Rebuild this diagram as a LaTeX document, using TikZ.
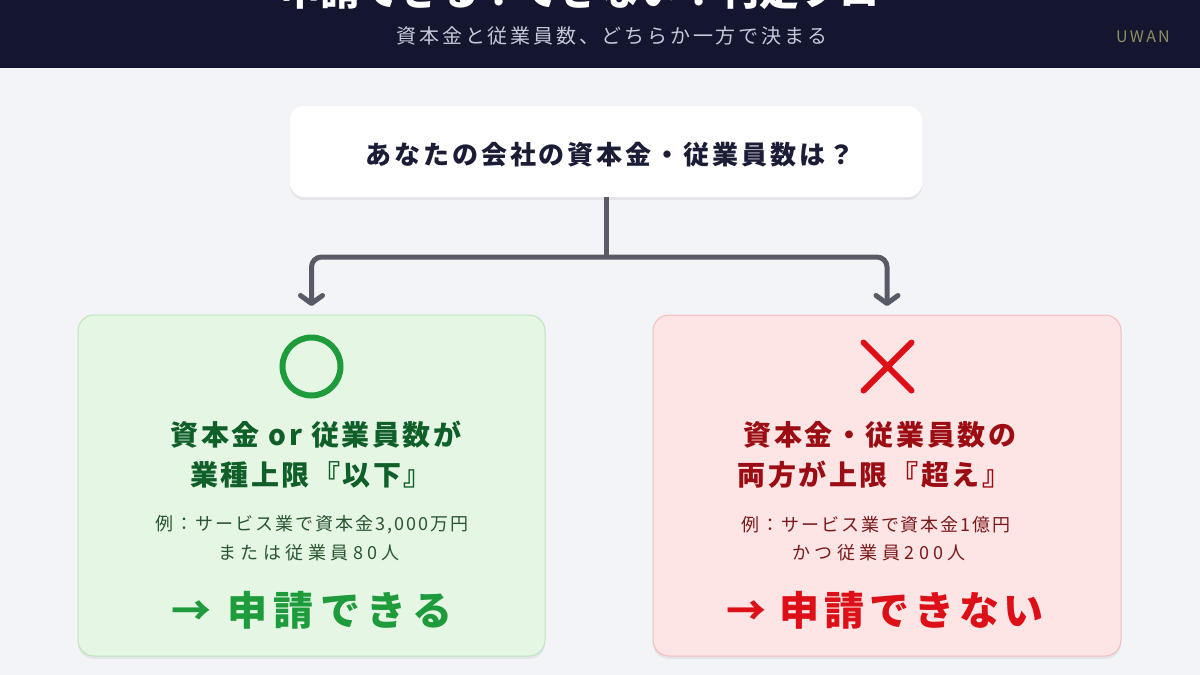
\documentclass[tikz,border=0pt]{standalone}
\usepackage{fontspec}
\newfontfamily\jp{Noto Sans CJK JP}
\usetikzlibrary{arrows.meta,shadows,shapes.misc}
\definecolor{bgc}{HTML}{F3F4F7}
\definecolor{navy}{HTML}{14162F}
\definecolor{subc}{HTML}{C5C8D8}
\definecolor{uwanc}{HTML}{8E8E62}
\definecolor{qtext}{HTML}{1B1D36}
\definecolor{connc}{HTML}{585B66}
\definecolor{okfill}{HTML}{E5F6E5}
\definecolor{okline}{HTML}{BDE5BD}
\definecolor{okc}{HTML}{1E9C3B}
\definecolor{okhead}{HTML}{0F5F28}
\definecolor{oktext}{HTML}{2A5533}
\definecolor{ngfill}{HTML}{FDE4E5}
\definecolor{ngline}{HTML}{F5BCBE}
\definecolor{ngc}{HTML}{DD1018}
\definecolor{nghead}{HTML}{9B0D12}
\definecolor{ngtext}{HTML}{7A1A1A}
\tikzset{
  softshadow/.style={drop shadow={shadow xshift=0pt,shadow yshift=-3pt,opacity=0.06,fill=black}},
  card/.style={rounded corners=16pt,line width=1pt,minimum height=341pt,inner sep=0pt,softshadow},
  conn/.style={draw=connc,line width=5pt},
  tip/.style={-{Straight Barb[length=8pt,width=22pt,round]},rounded corners=10pt,shorten >=9pt},
  headtxt/.style={font=\jp\bfseries\fontsize{28}{32}\selectfont\addfontfeatures{LetterSpace=9}},
  extxtA/.style={font=\jp\fontsize{18}{22}\selectfont\addfontfeatures{LetterSpace=11}},
  extxtB/.style={font=\jp\fontsize{18}{22}\selectfont\addfontfeatures{LetterSpace=25}},
  restxt/.style={font=\jp\bfseries\fontsize{40}{44}\selectfont\addfontfeatures{LetterSpace=12}},
  restxtwide/.style={font=\jp\bfseries\fontsize{40}{44}\selectfont\addfontfeatures{LetterSpace=16}},
}
\begin{document}
\begin{tikzpicture}[x=1pt,y=-1pt,every node/.style={inner sep=0pt,outer sep=0pt}]
\useasboundingbox (0,0) rectangle (1200,675);
\fill[bgc] (0,0) rectangle (1200,675);
% header
\fill[navy] (0,0) rectangle (1200,68);
\node[anchor=base,text=white,font=\jp\bfseries\fontsize{40}{40}\selectfont] (title) at (600,5) {申請できる？できない？判定フロー};
\node[text=subc,font=\jp\fontsize{20}{24}\selectfont\addfontfeatures{LetterSpace=14}] (sub) at (612,36) {資本金と従業員数、どちらか一方で決まる};
\node[text=uwanc,font=\jp\fontsize{16}{18}\selectfont\addfontfeatures{LetterSpace=14}] (uwan) at (1143,37) {UWAN};
% question
\node[fill=white,rounded corners=14pt,minimum width=632pt,minimum height=91pt,softshadow] (q) at (606,151.5) {};
\node[text=qtext,font=\jp\bfseries\fontsize{26}{30}\selectfont\addfontfeatures{LetterSpace=11.5}] (qt) at (610,155) {あなたの会社の資本金・従業員数は？};
% cards
\node[card,fill=okfill,draw=okline,minimum width=467pt] (ok) at (311.5,485.5) {};
\node[card,fill=ngfill,draw=ngline,minimum width=468pt] (ng) at (887,485.5) {};
% connectors
\coordinate (split) at (606,257);
\draw[conn] (q.south) -- (split);
\draw[conn,tip] (split) -| (ok.north);
\draw[conn,tip] (split) -| (ng.north);
% left content
\node[circle,draw=okc,line width=6pt,minimum size=58pt] (okmark) at (311.5,366.5) {};
\node[headtxt,text=okhead] (okh1) at (316,435) {資本金 or 従業員数が};
\node[headtxt,text=okhead] (okh2) at (311,475) {業種上限『以下』};
\node[extxtA,text=oktext] (oke1) at (312,525) {例：サービス業で資本金3,000万円};
\node[extxtB,text=oktext] (oke2) at (309,553) {または従業員80人};
\node[restxtwide,text=okc] (okr) at (312,610) {→ 申請できる};
% right content
\node[cross out,draw=ngc,line width=6pt,line cap=round,minimum size=48pt] (ngmark) at (887.5,366.5) {};
\node[headtxt,text=nghead] (ngh1) at (880,435) {資本金・従業員数の};
\node[headtxt,text=nghead] (ngh2) at (874,475) {両方が上限『超え』};
\node[extxtA,text=ngtext] (nge1) at (876,525) {例：サービス業で資本金1億円};
\node[extxtB,text=ngtext] (nge2) at (879,553) {かつ従業員200人};
\node[restxt,text=ngc] (ngr) at (885,610) {→ 申請できない};
\end{tikzpicture}
\end{document}
